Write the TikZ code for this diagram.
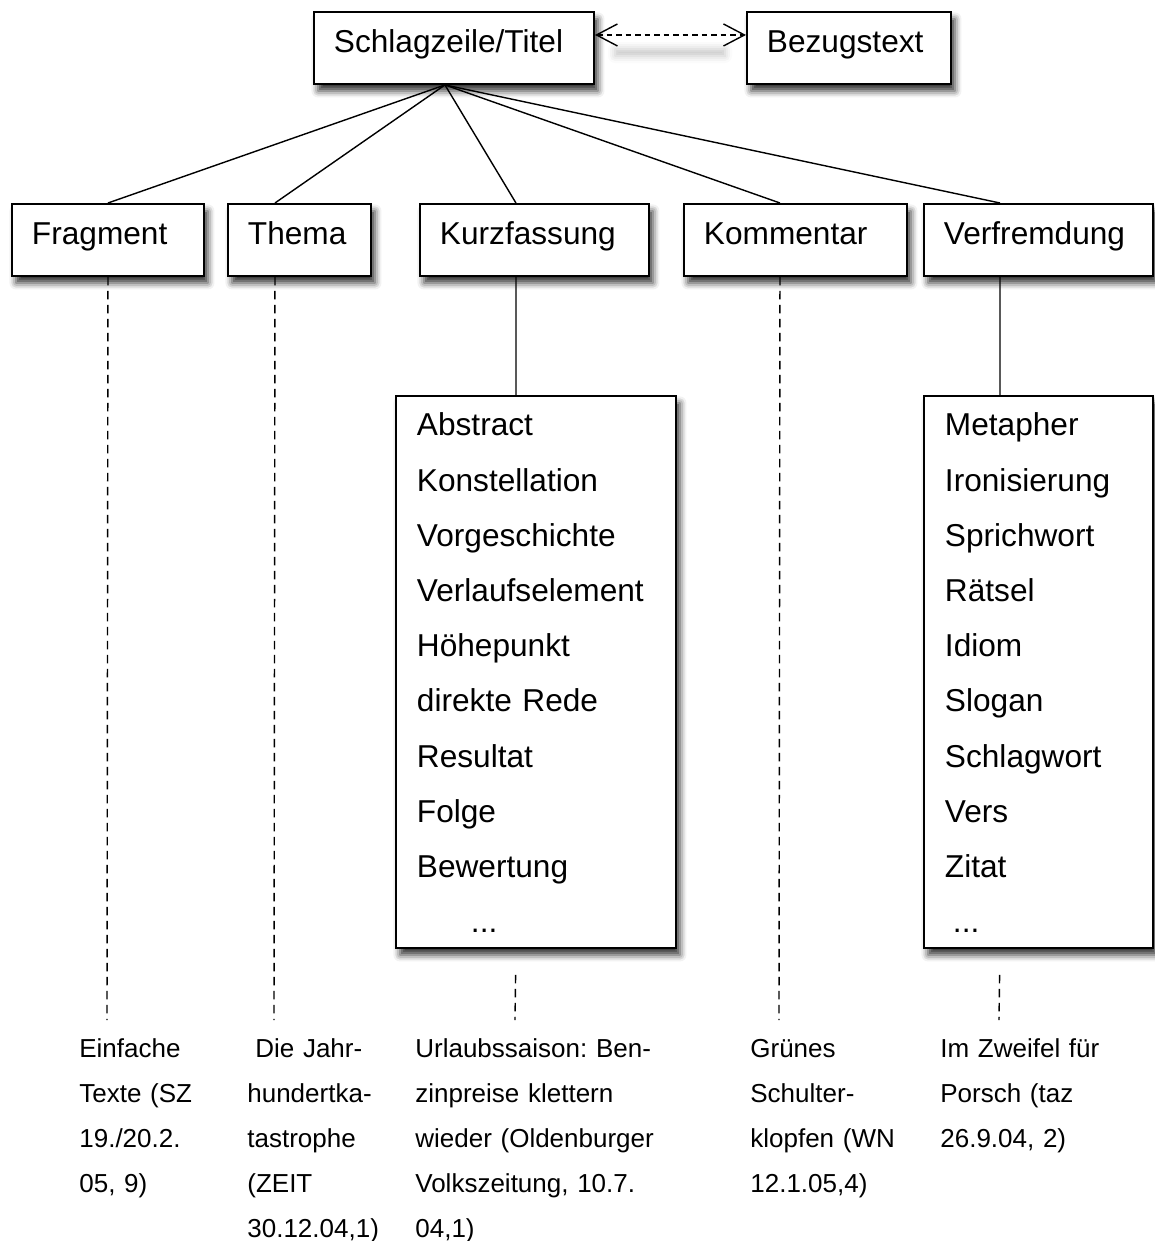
\documentclass[tikz,border=0pt]{standalone}
\usepackage{fontspec}
\setmainfont{Liberation Sans}
\usetikzlibrary{arrows.meta}
\usetikzlibrary{shadows.blur}

\tikzset{
  schatten/.style={blur shadow={shadow xshift=0.08cm, shadow yshift=-0.14cm, shadow blur radius=0.13cm, shadow opacity=80}},
  kasten/.style={draw, line width=1.1pt, fill=white, schatten, anchor=north west, inner xsep=0.4cm, inner ysep=0pt,
    align=left, text height=0.81cm, text depth=0.63cm, font=\fontsize{18}{22}\selectfont},
  liste/.style={kasten, inner xsep=0.42cm, text height=0.8cm, text depth=10.24cm, font=\fontsize{18}{31.4}\selectfont},
  beleg/.style={anchor=base west, inner sep=0pt, text width=5cm, align=left, font=\fontsize{14.8}{25.7}\selectfont\frenchspacing},
  strich/.style={line width=0.8pt},
  gestrichelt/.style={line width=0.8pt, dash pattern=on 0.17cm off 0.11cm},
}

\begin{document}
\begin{tikzpicture}
        \useasboundingbox (0,0) rectangle (23.1,-24.82);

        % Titel und Bezugstext
        \node[kasten, text width=4.8cm] (titel) at (6.26,-0.22) {Schlagzeile/Titel};
        \node[kasten, text width=3.28cm] (bezug) at (14.92,-0.22) {Bezugstext};
        \path[blur shadow={shadow xshift=0cm, shadow yshift=0cm, shadow blur radius=0.14cm, shadow opacity=22}]
              (12.3,-0.98) rectangle (14.5,-1.12);
        \draw[line width=0.8pt, dash pattern=on 0.11cm off 0.08cm,
              {Straight Barb[length=0.42cm,width=0.44cm]}-{Straight Barb[length=0.42cm,width=0.44cm]}]
              ([yshift=0.26cm]titel.east) -- ([yshift=0.26cm]bezug.west);

        % zweite Reihe
        \node[kasten, text width=3.04cm] (fragment) at (0.22,-4.06) {Fragment};
        \node[kasten, text width=2.06cm] (thema) at (4.54,-4.06) {Thema};
        \node[kasten, text width=3.78cm] (kurz) at (8.38,-4.06) {Kurzfassung};
        \node[kasten, text width=3.66cm] (kommentar) at (13.66,-4.06) {Kommentar};
        \node[kasten, text width=3.78cm] (verfremdung) at (18.46,-4.06) {Verfremdung};

        \draw[strich] ([xshift=-0.18cm]titel.south) -- (fragment.north);
        \draw[strich] ([xshift=-0.18cm]titel.south) -- ([xshift=-0.49cm]thema.north);
        \draw[strich] ([xshift=-0.18cm]titel.south) -- ([xshift=-0.37cm]kurz.north);
        \draw[strich] ([xshift=-0.18cm]titel.south) -- ([xshift=-0.31cm]kommentar.north);
        \draw[strich] ([xshift=-0.18cm]titel.south) -- ([xshift=-0.77cm]verfremdung.north);

        % Listen
        \node[liste, text width=4.76cm] (kurzliste) at (7.9,-7.9)
          {Abstract\\Konstellation\\Vorgeschichte\\Verlaufselement\\H\"ohepunkt\\direkte Rede\\Resultat\\Folge\\Bewertung\\\hspace*{1.08cm}...};
        \node[liste, text width=3.74cm] (verfliste) at (18.46,-7.9)
          {Metapher\\Ironisierung\\Sprichwort\\R\"atsel\\Idiom\\Slogan\\Schlagwort\\Vers\\Zitat\\\hspace*{0.16cm}...};

        \draw[strich] ([xshift=-0.37cm]kurz.south) -- ([xshift=-0.40cm]kurzliste.north);
        \draw[strich] ([xshift=-0.77cm]verfremdung.south) -- ([xshift=-0.77cm]verfliste.north);

        % gestrichelte Linien zu den Beispielen
        \coordinate (fragende) at (2.14,-20.4);
        \coordinate (themaende) at (5.48,-20.4);
        \coordinate (kurzende) at (10.3,-20.4);
        \coordinate (kommende) at (15.58,-20.4);
        \coordinate (verfende) at (19.98,-20.4);

        \draw[gestrichelt] (fragment.south) -- (fragende);
        \draw[gestrichelt] ([xshift=-0.49cm]thema.south) -- (themaende);
        \draw[gestrichelt, shorten <=0.52cm] ([xshift=-0.40cm]kurzliste.south) -- (kurzende);
        \draw[gestrichelt] ([xshift=-0.31cm]kommentar.south) -- (kommende);
        \draw[gestrichelt, shorten <=0.52cm] ([xshift=-0.77cm]verfliste.south) -- (verfende);

        % Beispiele
        \node[beleg] (fragbeleg) at (1.58,-21.14) {Einfache\\Texte (SZ\\19./20.2.\\05, 9)};
        \node[beleg] (themabeleg) at (4.94,-21.14) {\hspace*{0.16cm}Die Jahr-\\hundertka-\\tastrophe\\(ZEIT\\30.12.04,1)};
        \node[beleg] (kurzbeleg) at (8.3,-21.14) {Urlaubssaison: Ben-\\zinpreise klettern\\wieder (Oldenburger\\Volkszeitung, 10.7.\\04,1)};
        \node[beleg] (kommbeleg) at (15.0,-21.14) {Gr\"unes\\Schulter-\\klopfen (WN\\12.1.05,4)};
        \node[beleg] (verfbeleg) at (18.8,-21.14) {Im Zweifel f\"ur\\Porsch (taz\\26.9.04, 2)};
\end{tikzpicture}
\end{document}
